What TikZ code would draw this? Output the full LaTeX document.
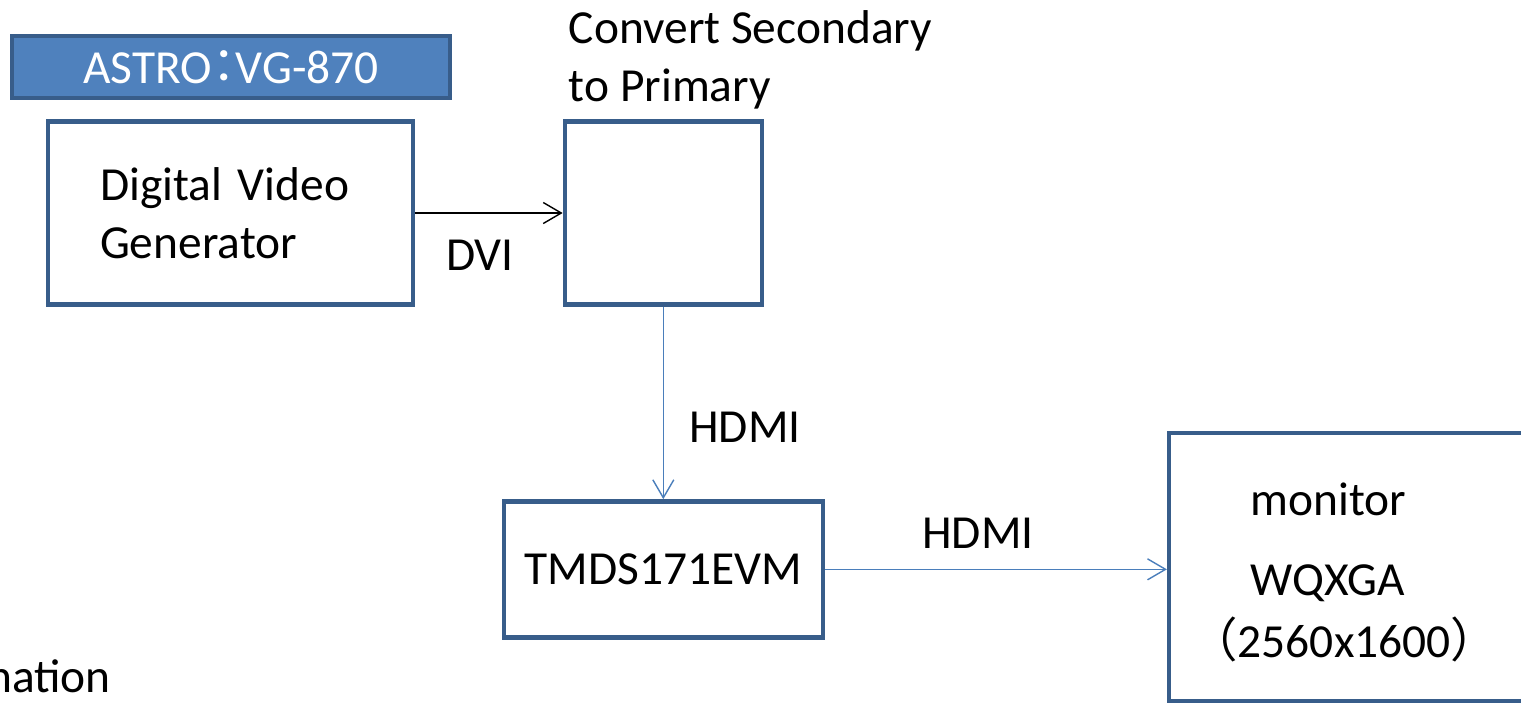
\documentclass[tikz,border=0pt]{standalone}
\usepackage{fontspec}
\setmainfont{Carlito}
\newfontfamily\cjkfont{Noto Sans CJK JP}
\usetikzlibrary{arrows.meta,positioning}
\definecolor{boxline}{RGB}{56,93,138}
\definecolor{boxfill}{RGB}{79,129,189}
\definecolor{linkblue}{RGB}{74,126,187}

\begin{document}
\begin{tikzpicture}[
  x=0.02cm, y=-0.02cm,
  font=\fontsize{27}{33}\selectfont,
  unit/.style={rectangle, draw=boxline, line width=2.5pt, fill=white,
    inner sep=0pt},
  tag/.style={rectangle, draw=boxline, line width=2.5pt, fill=boxfill,
    text=white, minimum width=8.76cm, minimum height=1.24cm, inner sep=0pt},
  lbl/.style={inner sep=0pt},
  arr/.style={-{Straight Barb[length=3.6mm, width=4.2mm]}, line width=0.8pt}
]
\useasboundingbox (0,0) rectangle (1521,704);
\clip (0,0) rectangle (1521,704);

% Generator
\node[tag] (astro) at (231,67) {ASTRO\makebox[0.5em][c]{\cjkfont ：}VG-870};
\node[unit, minimum width=7.3cm, minimum height=3.66cm, text width=5.22cm, align=left] (dvg) at (230.5,213)
  {Digital Video\\Generator};

% Converter
\node[unit, right=2.95cm of dvg, minimum width=3.94cm, minimum height=3.66cm] (conv) {};
\node[lbl, align=left, anchor=south west] (convlbl) at ([xshift=0.12cm, yshift=0.2cm]conv.north west)
  {Convert Secondary\\to Primary};

% Redriver and monitor
\node[unit, below=3.85cm of conv, minimum width=6.38cm, minimum height=2.72cm] (tmds) {TMDS171EVM};
\node[unit, right=6.84cm of tmds, yshift=0.05cm, minimum width=7.6cm, minimum height=5.36cm] (mon) {};
\node[lbl, align=left, anchor=north west] (montxt) at (1250,482)
  {monitor\\[0.45cm]WQXGA\\[0.08cm]\hspace*{-1.2cm}{\cjkfont （}2560x1600{\cjkfont ）}};

\node[lbl, anchor=base west] (cut) at (-13,692) {nation};

% Links
\draw[arr, black] (dvg) -- (conv);
\node[lbl] (dvilbl) at (480,255) {DVI};
\draw[arr, linkblue] (conv) -- (tmds);
\node[lbl] (hdmi1) at (745,427) {HDMI};
\draw[arr, linkblue] (tmds) -- (tmds -| mon.west);
\node[lbl] (hdmi2) at (978,533) {HDMI};

\end{tikzpicture}
\end{document}
